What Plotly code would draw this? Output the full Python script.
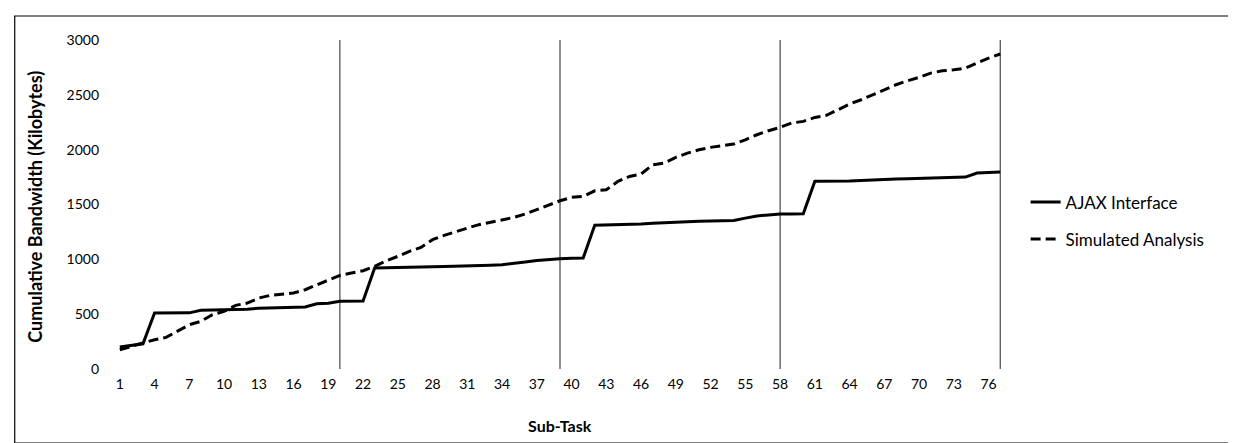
import plotly.graph_objects as go

# ---- data ----
sub_tasks = list(range(1, 78))

ajax_interface = [200, 215, 230, 510, 510, 510, 512, 535, 538, 538,
                  540, 545, 555, 558, 558, 560, 565, 595, 600, 617,
                  620, 620, 921, 922, 924, 926, 930, 932, 934, 936,
                  938, 942, 946, 951, 960, 975, 990, 1000, 1006, 1010,
                  1012, 1310, 1312, 1315, 1318, 1322, 1330, 1336, 1340, 1346,
                  1348, 1350, 1352, 1355, 1376, 1395, 1405, 1413, 1413, 1415,
                  1711, 1711, 1712, 1714, 1718, 1724, 1728, 1732, 1734, 1736,
                  1738, 1740, 1743, 1750, 1787, 1792, 1796]

simulated_analysis = [176, 206, 237, 267, 288, 344, 404, 435, 495, 526,
                      580, 601, 647, 672, 684, 693, 723, 769, 814, 854,
                      875, 896, 936, 987, 1027, 1073, 1109, 1179, 1219, 1255,
                      1285, 1316, 1337, 1361, 1382, 1413, 1452, 1498, 1534, 1565,
                      1574, 1625, 1634, 1711, 1756, 1778, 1862, 1878, 1930, 1969,
                      1999, 2021, 2039, 2051, 2090, 2136, 2173, 2203, 2243, 2258,
                      2294, 2313, 2364, 2416, 2455, 2501, 2547, 2592, 2628, 2659,
                      2698, 2719, 2728, 2744, 2790, 2835, 2872]

x_tick_values = list(range(1, 78, 3))
y_tick_values = [0, 500, 1000, 1500, 2000, 2500, 3000]
divider_tasks = [20, 39, 58, 77]

FONT = "Lato"

fig = go.Figure()
fig.add_trace(go.Scatter(
    x=sub_tasks, y=ajax_interface, mode="lines", name="AJAX Interface",
    legendgroup="a",
    line=dict(color="black", width=3)))
fig.add_trace(go.Scatter(
    x=sub_tasks, y=simulated_analysis, mode="lines", name="Simulated Analysis",
    legendgroup="b",
    line=dict(color="black", width=3, dash="10px,5px")))

for d in divider_tasks:
    fig.add_shape(type="line", xref="x", yref="y", x0=d, x1=d, y0=0, y1=3000,
                  line=dict(color="#222222", width=1), layer="below")

# outer frame
fig.add_shape(type="rect", xref="paper", yref="paper",
              x0=(7 - 106.2) / 891.3, x1=(1231 - 106.2) / 891.3,
              y0=-(435 - 361) / 329.0, y1=1 + (32 - 8) / 329.0,
              line=dict(color="black", width=1.2), fillcolor="rgba(0,0,0,0)")

fig.update_layout(
    width=1236, height=443,
    margin=dict(l=106, r=238, t=32, b=82),
    paper_bgcolor="white", plot_bgcolor="white",
    font=dict(family=FONT, color="black", size=14),
    showlegend=True,
    legend=dict(x=1.022, xanchor="left", y=0.45, yanchor="middle",
                font=dict(family=FONT, size=17, color="black"),
                tracegroupgap=12, bgcolor="rgba(0,0,0,0)"),
    xaxis=dict(range=[0.5, 77.5], tickmode="array", tickvals=x_tick_values,
               ticktext=[str(v) for v in x_tick_values],
               showgrid=False, zeroline=False, showline=False, ticks="",
               ticklabelstandoff=5, tickfont=dict(size=14)),
    yaxis=dict(range=[0, 3000], tickmode="array", tickvals=y_tick_values,
               showgrid=False, zeroline=False, showline=False, ticks="",
               ticklabelstandoff=14, tickfont=dict(size=14)),
    annotations=[
        dict(text="<b>Sub-Task</b>", xref="paper", yref="paper",
             x=0.5, y=-(418 - 361) / 329.0, xanchor="center", yanchor="middle",
             showarrow=False, font=dict(family=FONT, size=16, color="black")),
        dict(text="<b>Cumulative Bandwidth (Kilobytes)</b>", xref="paper", yref="paper",
             x=(27 - 106.2) / 891.3, y=(361 - 199) / 329.0, xanchor="center", yanchor="middle",
             textangle=-90, showarrow=False,
             font=dict(family=FONT, size=18, color="black")),
    ],
)

fig.write_html("out.html")
